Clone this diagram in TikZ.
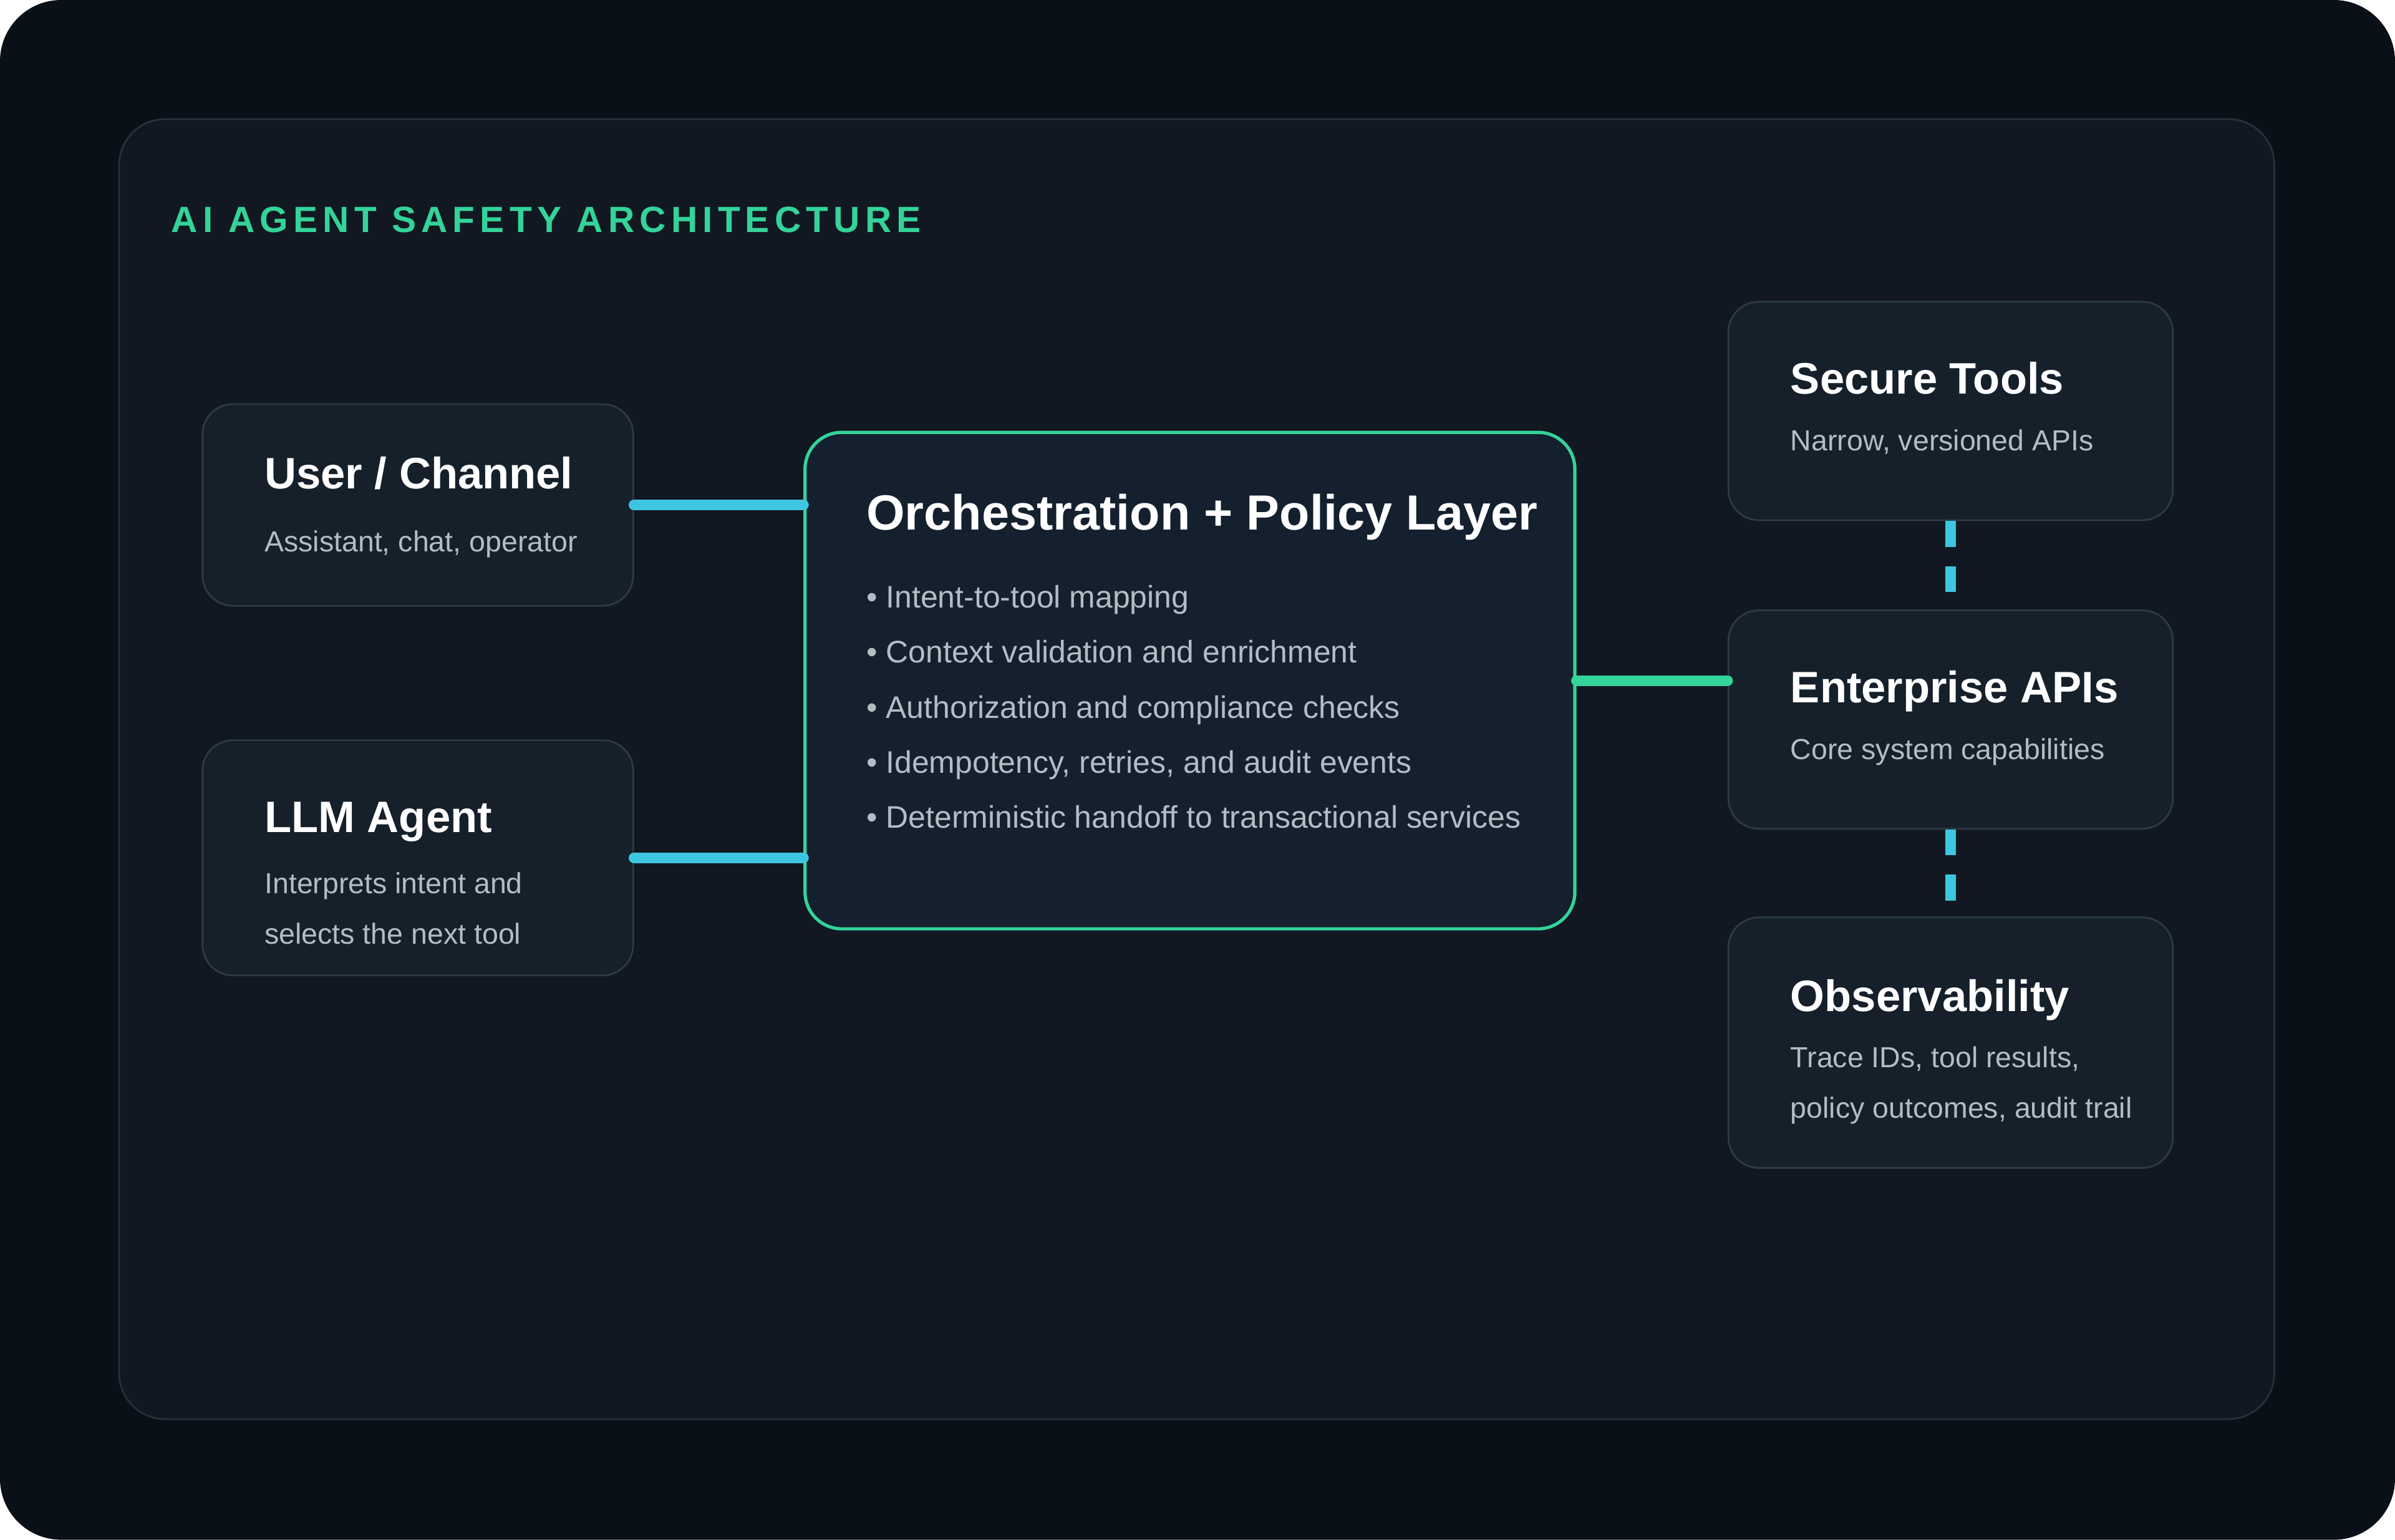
\documentclass[tikz,border=0pt]{standalone}
\usepackage{fontspec}
\setmainfont{Liberation Sans}
\usetikzlibrary{positioning}
\definecolor{bgdark}{HTML}{0A1017}
\definecolor{panel}{HTML}{111821}
\definecolor{panelline}{HTML}{27313B}
\definecolor{boxfill}{HTML}{15202B}
\definecolor{boxline}{HTML}{2D3B47}
\definecolor{orchfill}{HTML}{14202E}
\definecolor{accent}{HTML}{34D399}
\definecolor{wire}{HTML}{3EC6E0}
\definecolor{subtext}{HTML}{B4BCC4}
\tikzset{
  card/.style={draw=boxline, line width=0.8pt, fill=boxfill, rounded corners=0.5cm, anchor=north west, inner sep=0pt},
  headtext/.style={anchor=base west, text=white, font=\fontsize{20.5}{24}\selectfont\bfseries, inner sep=0pt},
  bodytext/.style={anchor=base west, text=subtext, font=\fontsize{13.5}{16}\selectfont, inner sep=0pt},
  link/.style={wire, line width=5pt, line cap=round},
}
\begin{document}
\begin{tikzpicture}[x=0.025cm, y=-0.025cm]
        \useasboundingbox (0,0) rectangle (1568,1008);
        \fill[bgdark, rounded corners=1cm] (0,0) rectangle (1568,1008);
        \draw[panelline, fill=panel, line width=0.8pt, rounded corners=0.75cm] (78,78) rectangle (1489,929);
        \node[anchor=base west, text=accent, inner sep=0pt, font=\fontsize{17}{20}\selectfont\bfseries\addfontfeature{LetterSpace=14}] (title) at (112,152) {AI AGENT SAFETY ARCHITECTURE};
        % left column
        \node[card, minimum width=282*0.025cm, minimum height=132*0.025cm] (user) at (132,264) {};
        \node[headtext] (usert) at (173,320) {User / Channel};
        \node[bodytext] (users) at (173,361) {Assistant, chat, operator};
        \node[card, minimum width=282*0.025cm, minimum height=154*0.025cm] (llm) at (132,484) {};
        \node[headtext] (llmt) at (173,545) {LLM Agent};
        \node[bodytext] (llms1) at (173,585) {Interprets intent and};
        \node[bodytext] (llms2) at (173,618) {selects the next tool};
        % center
        \node[card, draw=accent, line width=1.5pt, fill=orchfill, rounded corners=0.6cm, minimum width=504*0.025cm, minimum height=325*0.025cm] (orch) at (526,282) {};
        \node[headtext, font=\fontsize{23}{27}\selectfont\bfseries] (orcht) at (567,347) {Orchestration + Policy Layer};
        \foreach \txt [count=\i from 0] in {Intent-to-tool mapping, Context validation and enrichment, Authorization and compliance checks, {Idempotency, retries, and audit events}, Deterministic handoff to transactional services}
            \node[bodytext, font=\fontsize{14.5}{17}\selectfont] (bul\i) at (567,398+36*\i) {\textbullet\ \txt};
        % right column
        \node[card, minimum width=291*0.025cm, minimum height=143*0.025cm] (sec) at (1131,197) {};
        \node[headtext] (sect) at (1172,258) {Secure Tools};
        \node[bodytext] (secs) at (1172,295) {Narrow, versioned APIs};
        \node[card, minimum width=291*0.025cm, minimum height=143*0.025cm] (ent) at (1131,399) {};
        \node[headtext] (entt) at (1172,460) {Enterprise APIs};
        \node[bodytext] (ents) at (1172,497) {Core system capabilities};
        \node[card, minimum width=291*0.025cm, minimum height=164*0.025cm] (obs) at (1131,600) {};
        \node[headtext] (obst) at (1172,662) {Observability};
        \node[bodytext] (obss1) at (1172,699) {Trace IDs, tool results,};
        \node[bodytext] (obss2) at (1172,732) {policy outcomes, audit trail};
        % connectors
        \draw[link] (user.east) -- (user.east -| orch.west);
        \draw[link] (llm.east) -- (llm.east -| orch.west);
        \draw[link, accent] (orch.east) -- (orch.east -| ent.west);
        \draw[link, line cap=butt, dash pattern=on 12pt off 9pt] (sec.south) -- (ent.north);
        \draw[link, line cap=butt, dash pattern=on 12pt off 9pt] (ent.south) -- (obs.north);
\end{tikzpicture}
\end{document}
